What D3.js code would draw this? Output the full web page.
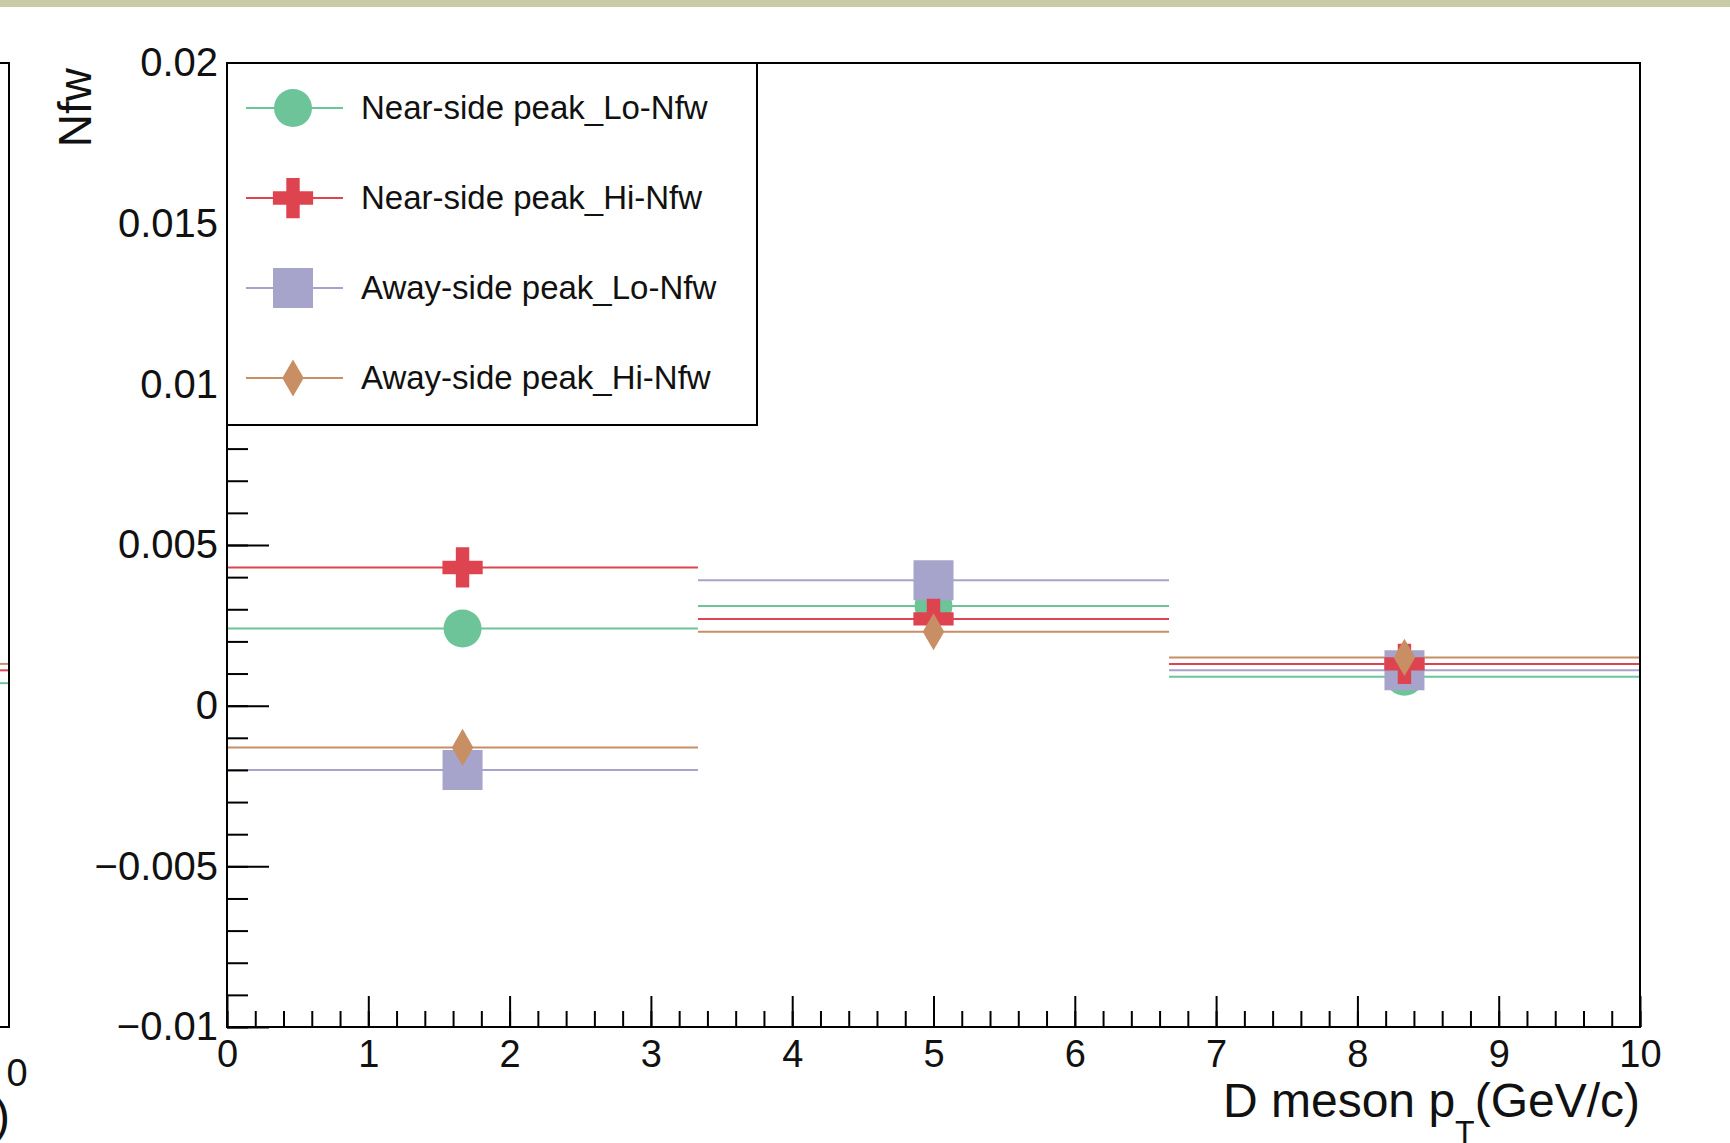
<!DOCTYPE html>
<html>
<head>
<meta charset="utf-8">
<script src="https://cdn.jsdelivr.net/npm/d3@7"></script>
<style>
  body { margin: 0; background: #fff; }
  svg { display: block; font-family: "Liberation Sans", Arial, Helvetica, sans-serif; }
</style>
</head>
<body>
<div id="chart"></div>
<script>
// bins in D meson pT
const binLo = [0, 3.333, 6.667];
const binHi = [3.333, 6.667, 10];
const binMid = [1.667, 5, 8.333];

// Nfw values per bin
const nearLo = [0.0024, 0.0031, 0.0009];
const nearHi = [0.0043, 0.0027, 0.0013];
const awayLo = [-0.0020, 0.0039, 0.0011];
const awayHi = [-0.0013, 0.0023, 0.0015];

// what is visible of the neighbouring pad on the left
const leftPadVals = [0.0013, 0.0011, 0.0007];

const xMajor = [0, 1, 2, 3, 4, 5, 6, 7, 8, 9, 10];
const yMajor = [-0.01, -0.005, 0, 0.005, 0.01, 0.015, 0.02];

const colors = {
  green: "#6cc498",
  red: "#de4450",
  purple: "#a6a4ca",
  orange: "#c88e64"
};

const series = [
  {name: "Near-side peak_Lo-Nfw", values: nearLo, color: colors.green, symbol: d3.symbolCircle, size: 1134},
  {name: "Near-side peak_Hi-Nfw", values: nearHi, color: colors.red, symbol: d3.symbolCross, size: 900},
  {name: "Away-side peak_Lo-Nfw", values: awayLo, color: colors.purple, symbol: d3.symbolSquare, size: 1600},
  {name: "Away-side peak_Hi-Nfw", values: awayHi, color: colors.orange, symbol: d3.symbolDiamond, size: 400}
];
// order the markers were painted in
const drawOrder = [0, 2, 1, 3];

const W = 1730, H = 1143;
const frame = {left: 227, right: 1640, top: 63, bottom: 1027};

const svg = d3.select("#chart").append("svg")
  .attr("width", W)
  .attr("height", H);

svg.append("rect").attr("width", W).attr("height", H).attr("fill", "#fff");
// top strip
svg.append("rect").attr("width", W).attr("height", 7).attr("fill", "#c8cba7");

const x = d3.scaleLinear().domain([0, 10]).range([frame.left, frame.right]);
const y = d3.scaleLinear().domain([-0.01, 0.02]).range([frame.bottom, frame.top]);

// horizontal error bars
const lines = svg.append("g");
series.forEach(s => {
  lines.selectAll(null)
    .data(s.values)
    .join("line")
    .attr("x1", (d, i) => x(binLo[i]))
    .attr("x2", (d, i) => x(binHi[i]))
    .attr("y1", d => y(d))
    .attr("y2", d => y(d))
    .attr("stroke", s.color)
    .attr("stroke-width", 2);
});

// markers
const marks = svg.append("g");
drawOrder.forEach(k => {
  const s = series[k];
  marks.selectAll(null)
    .data(s.values)
    .join("path")
    .attr("transform", (d, i) => `translate(${x(binMid[i])},${y(d)})`)
    .attr("d", d3.symbol(s.symbol, s.size))
    .attr("fill", s.color);
});

// axes, ticks inside the frame
const fmtY = d => d === 0 ? "0" : d3.format("~g")(d);

svg.append("g")
  .attr("transform", `translate(${frame.left},0)`)
  .call(d3.axisLeft(y).tickValues(y.ticks(30)).tickSize(-21).tickFormat(() => ""))
  .call(g => g.select(".domain").remove());

svg.append("g")
  .attr("class", "y-major")
  .attr("transform", `translate(${frame.left},0)`)
  .call(d3.axisLeft(y).tickValues(yMajor).tickSize(-42).tickPadding(9).tickFormat(fmtY))
  .call(g => g.select(".domain").remove());

svg.append("g")
  .attr("transform", `translate(0,${frame.bottom})`)
  .call(d3.axisBottom(x).tickValues(x.ticks(50)).tickSize(-16).tickFormat(() => ""))
  .call(g => g.select(".domain").remove());

svg.append("g")
  .attr("class", "x-major")
  .attr("transform", `translate(0,${frame.bottom})`)
  .call(d3.axisBottom(x).tickValues(xMajor).tickSize(-31).tickPadding(13).tickFormat(d3.format("d")))
  .call(g => g.select(".domain").remove());

svg.selectAll(".tick line").attr("stroke", "#000").attr("stroke-width", 2);
svg.selectAll(".y-major text").attr("font-size", 40).attr("fill", "#111").attr("font-family", null);
svg.selectAll(".x-major text").attr("font-size", 38).attr("fill", "#111").attr("font-family", null);

svg.append("rect")
  .attr("x", frame.left)
  .attr("y", frame.top)
  .attr("width", frame.right - frame.left)
  .attr("height", frame.bottom - frame.top)
  .attr("fill", "none")
  .attr("stroke", "#000")
  .attr("stroke-width", 2);

// axis titles
svg.append("text")
  .attr("transform", "translate(91,68) rotate(-90)")
  .attr("text-anchor", "end")
  .attr("font-size", 46)
  .attr("fill", "#111")
  .text("Nfw");

const xt = svg.append("text")
  .attr("x", frame.right)
  .attr("y", 1117)
  .attr("text-anchor", "end")
  .attr("font-size", 48)
  .attr("fill", "#111");
xt.append("tspan").text("D meson p");
xt.append("tspan").attr("font-size", 32).attr("dy", 26).text("T");
xt.append("tspan").attr("dy", -26).text("(GeV/c)");

// legend
const leg = {x: frame.left, y: frame.top, w: 530, h: 362, rowY: 108, rowStep: 90};
svg.append("rect")
  .attr("x", leg.x)
  .attr("y", leg.y)
  .attr("width", leg.w)
  .attr("height", leg.h)
  .attr("fill", "#fff")
  .attr("stroke", "#000")
  .attr("stroke-width", 2);

const rows = svg.append("g").selectAll("g")
  .data(series)
  .join("g")
  .attr("transform", (d, i) => `translate(0,${leg.rowY + i * leg.rowStep})`);

rows.append("line")
  .attr("x1", 246).attr("x2", 343)
  .attr("stroke", d => d.color)
  .attr("stroke-width", 2);
rows.append("path")
  .attr("transform", "translate(293,0)")
  .attr("d", d => d3.symbol(d.symbol, d.size)())
  .attr("fill", d => d.color);
rows.append("text")
  .attr("x", 361)
  .attr("y", 11)
  .attr("font-size", 33)
  .attr("fill", "#111")
  .text(d => d.name);

// neighbouring pad, only its right edge shows
const leftEdge = 9;
const lp = svg.append("g");
lp.selectAll("line.stub")
  .data(leftPadVals)
  .join("line")
  .attr("x1", 0).attr("x2", leftEdge)
  .attr("y1", d => y(d)).attr("y2", d => y(d))
  .attr("stroke", (d, i) => [colors.orange, colors.red, colors.green][i])
  .attr("stroke-width", 2);
lp.append("path")
  .attr("d", `M0,${frame.top}H${leftEdge}V${frame.bottom}H0`)
  .attr("fill", "none")
  .attr("stroke", "#000")
  .attr("stroke-width", 2);
lp.append("text")
  .attr("x", 17)
  .attr("y", 1086)
  .attr("text-anchor", "middle")
  .attr("font-size", 38)
  .attr("fill", "#111")
  .text("0");
lp.append("text")
  .attr("x", 10)
  .attr("y", 1132)
  .attr("text-anchor", "end")
  .attr("font-size", 48)
  .attr("fill", "#111")
  .text(")");
</script>
</body>
</html>
